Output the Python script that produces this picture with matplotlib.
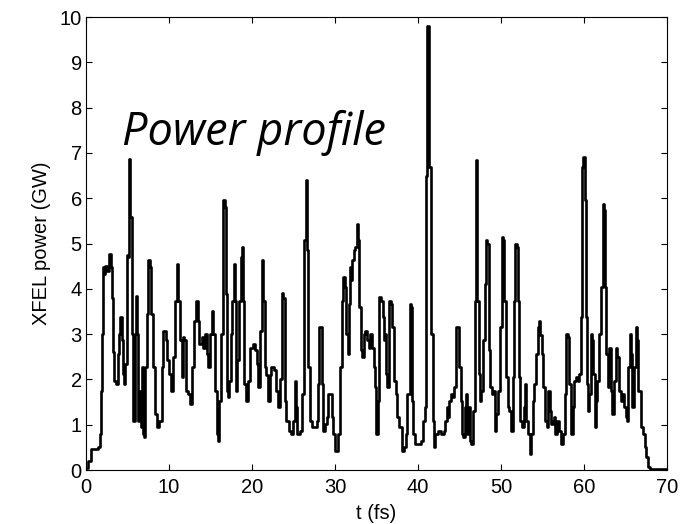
import numpy as np
import matplotlib
matplotlib.use('Agg')
import matplotlib.pyplot as plt

# Power profile (t in fs, power in GW)
t_fs = [
    0.00, 0.28, 0.56, 1.49, 1.69, 1.81, 1.89, 2.01, 2.17, 2.33, 2.49, 2.81, 2.97, 3.09, 3.21, 3.37,
    3.61, 3.82, 4.02, 4.14, 4.30, 4.42, 4.58, 4.70, 4.90, 5.10, 5.22, 5.34, 5.50, 5.62, 5.78, 5.90,
    6.02, 6.18, 6.31, 6.43, 6.59, 6.75, 6.83, 6.99, 7.15, 7.31, 7.51, 7.71, 7.83, 8.03, 8.31, 8.51,
    8.84, 9.12, 9.32, 9.64, 9.80, 10.04, 10.20, 10.44, 10.72, 10.92, 11.12, 11.33, 11.53, 11.65,
    11.85, 12.05, 12.33, 12.53, 12.73, 13.01, 13.25, 13.45, 13.61, 13.94, 14.14, 14.34, 14.54,
    14.74, 14.94, 15.14, 15.34, 15.54, 15.74, 15.90, 16.06, 16.27, 16.47, 16.55, 16.71, 16.83,
    16.95, 17.07, 17.23, 17.43, 17.63, 17.83, 17.95, 18.07, 18.23, 18.47, 18.63, 18.80, 18.96,
    19.08, 19.28, 19.56, 19.76, 20.08, 20.36, 20.56, 20.76, 20.96, 21.16, 21.37,
    21.50, 21.70, 21.90, 22.11, 22.31, 22.59, 22.83, 23.12, 23.40, 23.60, 23.72, 23.93, 24.13,
    24.45, 24.74, 24.94, 25.14, 25.26, 25.47, 25.67, 25.83, 26.07, 26.28, 26.48, 26.64, 26.76,
    26.96, 27.17, 27.57, 27.77, 27.98, 28.10, 28.30, 28.42, 28.58, 28.79, 28.99, 29.19, 29.47,
    29.60, 29.80, 30.00, 30.20, 30.40, 30.61, 30.81, 31.01, 31.17, 31.34, 31.50, 31.62, 31.74,
    31.90, 32.02, 32.23, 32.43, 32.63, 32.75, 32.91, 33.12, 33.28, 33.44, 33.64, 33.85, 34.05,
    34.25, 34.45, 34.66, 34.86, 34.98, 35.14, 35.34, 35.55, 35.75, 35.87, 35.99, 36.15, 36.28,
    36.48, 36.68, 36.88, 37.09, 37.29, 37.49, 37.69, 37.89, 38.10, 38.30, 38.50, 38.70, 38.99,
    39.19, 39.31, 39.43, 39.64, 39.92, 40.24, 40.40, 40.61, 40.81, 40.97, 41.13, 41.35, 41.54,
    41.74, 41.86, 42.02, 42.23, 42.43, 42.75, 43.08, 43.24, 43.48, 43.64, 43.77, 43.97, 44.17,
    44.37, 44.57, 44.78, 44.98,
    45.12, 45.28, 45.44, 45.60, 45.72, 45.88, 46.08, 46.24, 46.40, 46.60, 46.80, 46.92, 47.00,
    47.12, 47.28, 47.48, 47.60, 47.80, 48.00, 48.20, 48.32, 48.48, 48.68, 48.88, 49.08, 49.28,
    49.44, 49.68, 49.92, 50.12, 50.28, 50.40, 50.60, 50.80, 51.00, 51.20, 51.40, 51.60, 51.72,
    51.88, 52.00, 52.12, 52.32, 52.52, 52.72, 52.88, 53.04, 53.28, 53.44, 53.60, 53.80, 54.00,
    54.20, 54.40, 54.60, 54.72, 54.88, 55.04, 55.28, 55.52, 55.68, 55.84, 56.00, 56.20, 56.40,
    56.52, 56.72, 56.92, 57.20, 57.48, 57.68, 57.84, 58.00, 58.16, 58.40, 58.60, 58.80, 59.00,
    59.20, 59.40, 59.60, 59.80, 59.92, 60.08, 60.20, 60.32, 60.48, 60.64, 60.80, 60.96, 61.12,
    61.28, 61.44, 61.60, 61.80, 62.00, 62.24, 62.40, 62.56, 62.68, 62.88, 63.04, 63.20, 63.40,
    63.60, 63.84, 64.00, 64.20, 64.40, 64.60, 64.80, 65.00, 65.12, 65.28, 65.48, 65.64, 65.80,
    66.00, 66.20, 66.40, 66.52, 66.72, 66.90, 67.10, 67.30, 67.50, 67.70, 67.90, 70.00,
]
power_gw = [
    0.05, 0.20, 0.46, 0.50, 0.80, 1.75, 3.00, 4.48, 4.33, 4.50, 4.40, 4.76, 4.48, 3.80, 2.60, 1.97,
    1.90, 2.56, 3.00, 3.37, 2.86, 2.12, 1.90, 2.35, 4.74, 4.70, 6.87, 5.58, 3.00, 1.09, 1.09, 3.00,
    3.85, 3.00, 1.09, 1.75, 0.94, 2.27, 0.80, 0.72, 2.27, 3.45, 4.63, 4.48, 3.45, 2.27, 1.24, 0.94,
    1.09, 2.27, 3.08, 2.86, 2.42, 2.12, 1.75, 2.49, 3.74, 4.55, 3.74, 2.86, 2.05, 2.93,
    2.86, 1.75, 1.68, 1.46, 2.27, 3.30, 3.74, 3.30, 2.79, 2.93, 2.70, 3.00, 2.56,
    2.27, 3.00, 3.52, 3.00, 1.75, 0.80, 0.65, 1.53, 3.00, 3.89, 5.95, 5.80, 3.89,
    1.75, 1.61, 1.97, 3.00, 3.74, 4.55, 3.74, 1.75, 2.42, 3.74, 4.70, 4.92, 3.74,
    1.90, 1.53, 1.97, 2.70, 2.78, 2.64, 2.35, 1.83, 3.08, 4.63, 3.74,
    2.27, 2.09, 1.53, 2.09, 2.27, 2.20, 1.75, 1.39, 2.00, 3.90, 3.80, 1.53, 1.09,
    0.87, 0.80, 1.09, 1.97, 1.39, 0.80, 0.80, 0.87, 1.68, 5.07, 6.40, 4.85, 2.27,
    1.09, 0.94, 0.94, 1.09, 1.90, 3.15, 3.15, 1.90, 0.87, 1.02, 1.16, 1.68, 1.68,
    1.16, 0.80, 0.43, 0.43, 0.80, 2.27, 3.74, 4.26, 4.04, 3.00, 2.56, 3.67, 4.48,
    4.19, 4.63, 4.85, 4.92, 5.44, 5.07, 3.60, 2.64, 2.49, 3.00, 3.08, 2.86, 2.70,
    3.00, 2.70, 2.27, 1.83, 0.80, 1.53, 3.82, 3.74, 3.37, 2.86, 3.00, 2.12, 1.83,
    3.74, 3.67, 3.15, 1.97, 1.68, 1.16, 0.94, 0.94, 0.43, 0.50, 0.80, 1.68, 3.67,
    3.60, 1.53, 0.80, 0.57, 0.57, 0.57, 0.65, 1.09, 1.39, 6.50, 9.80, 6.70, 3.00,
    1.09, 0.50, 0.80, 0.80, 0.87, 0.80, 0.87, 1.09, 1.39, 1.16, 1.53, 1.68, 1.61,
    1.83, 3.15, 3.15, 2.27,
    1.53, 0.80, 0.72, 1.39, 1.68, 0.80, 1.39, 0.65, 0.57, 1.31, 3.74, 6.54, 6.84,
    3.74, 2.12, 1.53, 1.75, 2.86, 4.11, 5.07, 5.00, 2.64, 1.83, 1.68, 1.75, 0.87,
    1.24, 1.75, 3.15, 5.14, 5.07, 3.74, 2.05, 1.39, 1.31, 0.87, 2.05, 3.74, 5.00,
    4.92, 3.74, 2.05, 1.09, 0.94, 1.39, 1.90, 1.09, 0.80, 0.35, 0.80, 1.53, 1.90,
    2.56, 3.15, 3.30, 2.99, 2.56, 1.83, 1.09, 0.94, 1.75, 1.31, 1.02, 1.09, 1.16,
    0.80, 1.09, 0.87, 0.57, 0.80, 1.68, 3.00, 2.93, 1.90, 0.80, 1.39, 1.97, 2.05,
    1.97, 2.12, 3.37, 6.69, 6.91, 5.95, 3.37, 1.90, 1.31, 1.68, 3.00, 2.86, 2.12,
    0.94, 1.53, 1.97, 3.00, 4.04, 5.88, 5.73, 4.04, 2.56, 1.83, 2.70, 1.75, 1.24,
    1.97, 2.70, 2.49, 1.75, 1.53, 1.68, 1.39, 1.16, 1.09, 2.27, 3.00, 2.56, 1.39,
    2.27, 3.15, 2.86, 1.75, 1.75, 0.94, 0.80, 0.50, 0.28, 0.06, 0.03, 0.03,
]

# Figure with MATLAB-like boxed axes
fig = plt.figure(figsize=(6.91, 5.24), dpi=100)
ax = fig.add_axes([0.1245, 0.103, 0.841, 0.8645])

ax.plot(t_fs, power_gw, color='black', linewidth=1.9, drawstyle='steps-post')

ax.set_xlim(0, 70)
ax.set_ylim(0, 10)
ax.set_xticks(np.arange(0, 71, 10))
ax.set_yticks(np.arange(0, 11, 1))
ax.tick_params(direction='in', top=True, right=True, length=4, width=0.8,
               labelsize=14.5, pad=3)
ax.tick_params(axis='x', pad=6)
for lab in ax.get_xticklabels() + ax.get_yticklabels():
    lab.set_fontfamily('Liberation Sans')
for side in ax.spines.values():
    side.set_linewidth(0.8)

ax.set_xlabel('t (fs)', fontsize=14.5, family='Liberation Sans', labelpad=5)
ax.set_ylabel('XFEL power (GW)', fontsize=14.5, family='Liberation Sans', labelpad=6)

# Annotation inside the plot
ax.text(4.3, 7.17, 'Power profile', fontsize=32.5, style='italic',
        family='Open Sans', ha='left', va='baseline')

fig.savefig('out.png', dpi=100)
